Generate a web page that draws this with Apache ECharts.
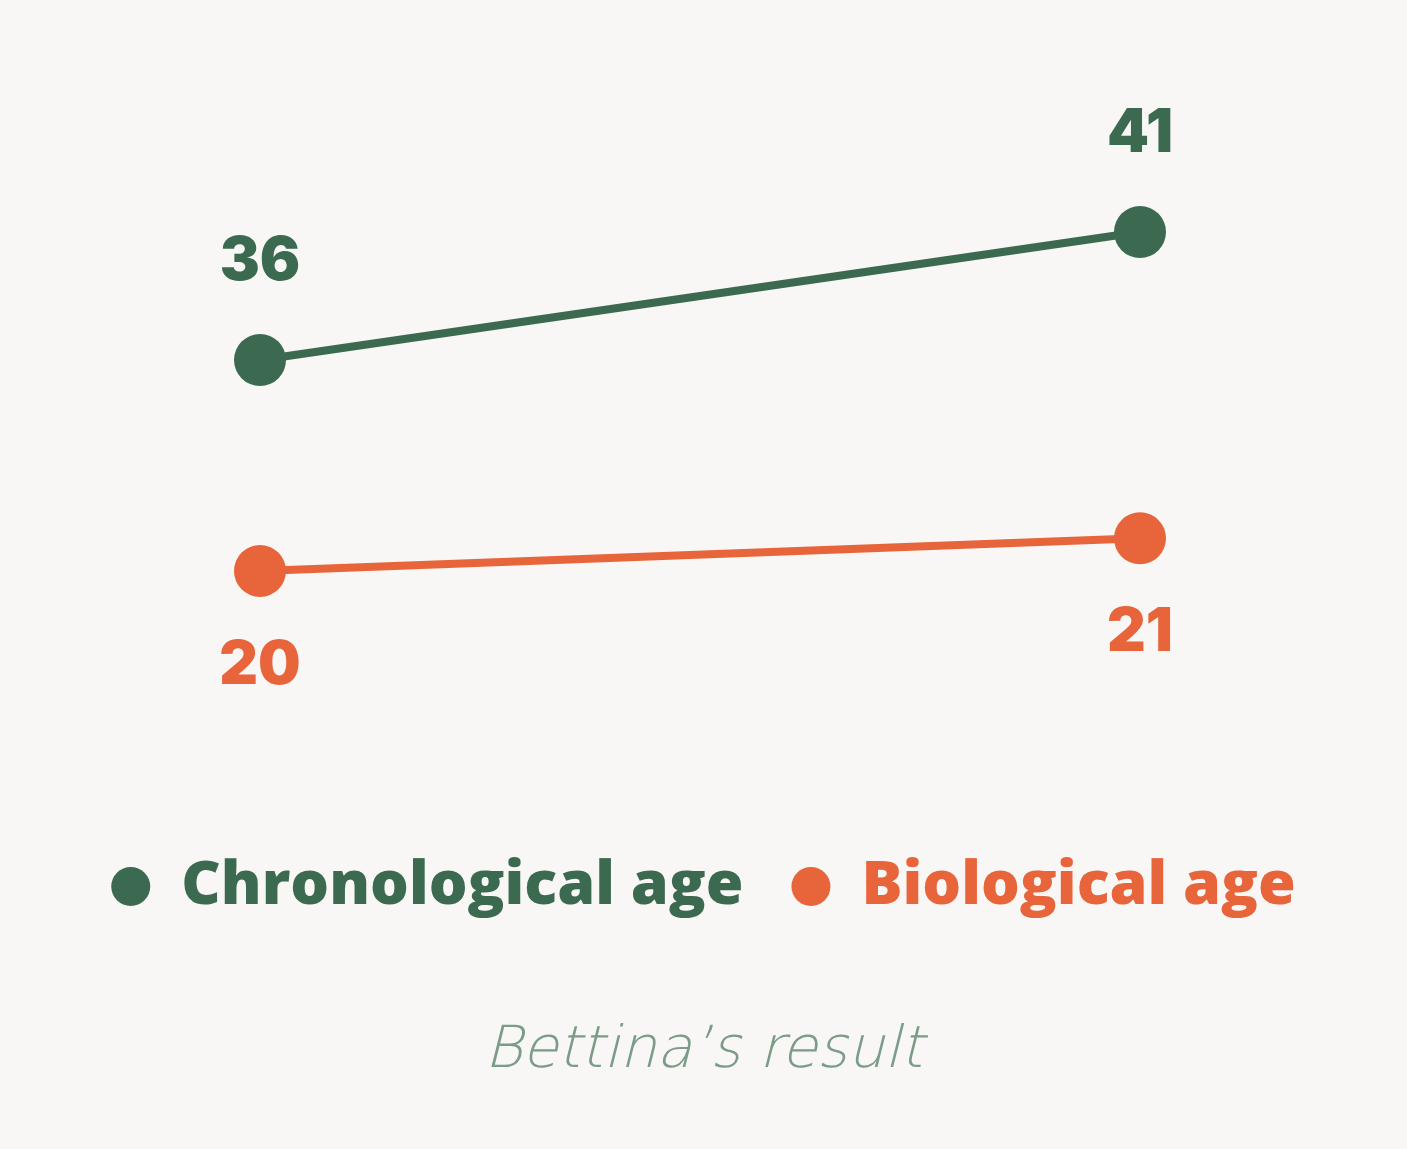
<!DOCTYPE html>
<html><head><meta charset="utf-8">
<script src="https://cdn.jsdelivr.net/npm/echarts@6/dist/echarts.min.js"></script>
<style>html,body{margin:0;padding:0;background:#f9f7f5;}#c{width:1407px;height:1149px;}</style>
</head><body><div id="c"></div>
<script>
const categories = ['Before', 'After'];
const chronologicalAge = [36, 41];
const biologicalAge = [20, 21];
const seriesNames = ['Chronological age', 'Biological age'];
const titleText = 'Bettina\u2019s result';

const GREEN = '#3b6a50';
const ORANGE = '#e8643a';
const FONT = 'Inter';

const chart = echarts.init(document.getElementById('c'));
chart.setOption({
  backgroundColor: '#f9f7f5',
  animation: false,
  title: {
    text: titleText, left: 'center', top: 1018,
    textStyle: { fontFamily: "'DejaVu Sans Light', 'DejaVu Sans ExtraLight', 'DejaVu Sans'", fontStyle: 'italic', fontWeight: 200, fontSize: 58, color: '#7b9c88' }
  },
  legend: {
    left: 'center', top: 851, icon: 'circle', itemWidth: 39, itemHeight: 39, itemGap: 48,
    data: [
      { name: seriesNames[0], textStyle: { color: GREEN } },
      { name: seriesNames[1], textStyle: { color: ORANGE } }
    ],
    textStyle: { fontFamily: 'Open Sans', fontWeight: 800, fontSize: 61, padding: [0, 0, 0, 26] }
  },
  grid: { left: 260, right: 267, top: 104, height: 640 },
  xAxis: { type: 'category', data: categories, boundaryGap: false, show: false },
  yAxis: [
    { type: 'value', min: 21, max: 46, show: false },
    { type: 'value', min: 14.7, max: 34.3, show: false }
  ],
  series: [
    {
      name: seriesNames[0], type: 'line', yAxisIndex: 0, data: chronologicalAge,
      symbol: 'circle', symbolSize: 52, itemStyle: { color: GREEN },
      lineStyle: { width: 8, color: GREEN },
      label: { show: true, position: 'inside', offset: [0, -98], color: GREEN,
        fontFamily: FONT, fontWeight: 900, fontSize: 60 }
    },
    {
      name: seriesNames[1], type: 'line', yAxisIndex: 1, data: biologicalAge,
      symbol: 'circle', symbolSize: 52, itemStyle: { color: ORANGE },
      lineStyle: { width: 8, color: ORANGE },
      label: { show: true, position: 'inside', offset: [0, 95], color: ORANGE,
        fontFamily: FONT, fontWeight: 900, fontSize: 60 }
    }
  ]
});
</script></body></html>
